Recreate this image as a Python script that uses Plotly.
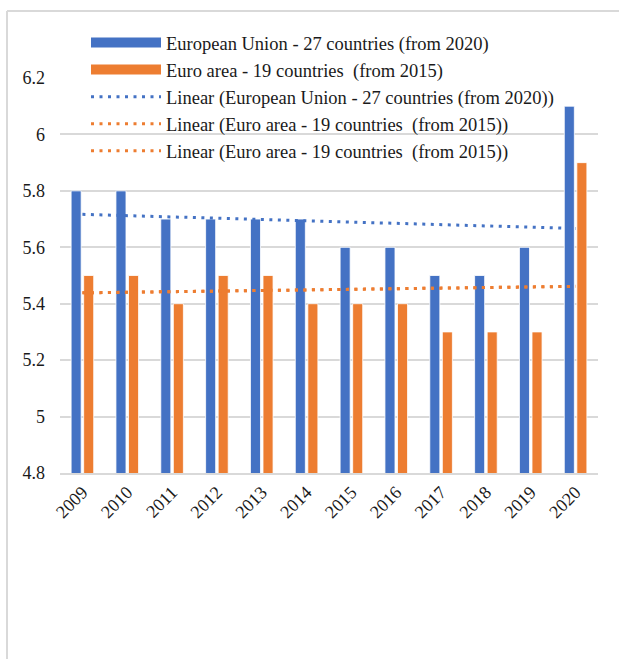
import numpy as np
import plotly.graph_objects as go

years = ["2009", "2010", "2011", "2012", "2013", "2014",
         "2015", "2016", "2017", "2018", "2019", "2020"]
eu27 = [5.8, 5.8, 5.7, 5.7, 5.7, 5.7, 5.6, 5.6, 5.5, 5.5, 5.6, 6.1]
ea19 = [5.5, 5.5, 5.4, 5.5, 5.5, 5.4, 5.4, 5.4, 5.3, 5.3, 5.3, 5.9]

name_eu = "European Union - 27 countries (from 2020)"
name_ea = "Euro area - 19 countries  (from 2015)"

BLUE = "#4472C4"
ORANGE = "#ED7D31"
GRID = "#D9D9D9"
TEXT = "#1a1a1a"
FONT = "Liberation Serif"


def linear_trend(values):
    idx = np.arange(len(values))
    slope, intercept = np.polyfit(idx, values, 1)
    return list(intercept + slope * idx)


fig = go.Figure()

# legend entries drawn as wide solid swatches
for name, color in [(name_eu, BLUE), (name_ea, ORANGE)]:
    fig.add_trace(go.Scatter(
        x=[years[0]], y=[None], mode="lines", name=name, legendgroup=name,
        line=dict(color=color, width=10), hoverinfo="skip",
    ))

for name, vals, color in [(name_eu, eu27, BLUE), (name_ea, ea19, ORANGE)]:
    fig.add_trace(go.Bar(
        x=years, y=vals, name=name, legendgroup=name, showlegend=False,
        marker=dict(color=color, line=dict(color="white", width=0.8)),
    ))

# Linear trendlines (the Euro area one appears twice in the legend)
trends = [
    ("Linear (European Union - 27 countries (from 2020))", eu27, BLUE),
    ("Linear (Euro area - 19 countries  (from 2015))", ea19, ORANGE),
    ("Linear (Euro area - 19 countries  (from 2015))", ea19, ORANGE),
]
for name, vals, color in trends:
    fig.add_trace(go.Scatter(
        x=years, y=linear_trend(vals), mode="lines", name=name,
        line=dict(color=color, width=3, dash="3px,5.5px"),
    ))

fig.update_layout(
    width=619, height=659,
    margin=dict(l=60, r=21, t=78, b=186),
    paper_bgcolor="white", plot_bgcolor="white",
    font=dict(family=FONT, size=18, color=TEXT),
    barmode="group", bargap=0.44, bargroupgap=0.2,
    showlegend=True,
    legend=dict(
        x=(86 - 60) / 538, xanchor="left",
        y=(473 - 24) / 395, yanchor="top",
        bgcolor="rgba(0,0,0,0)",
        font=dict(family=FONT, size=18.5, color=TEXT),
        itemwidth=70, tracegroupgap=0,
        traceorder="normal",
    ),
    xaxis=dict(
        type="category", tickangle=-45, showgrid=False,
        showline=True, linecolor=GRID, linewidth=1.5,
        ticks="", tickfont=dict(family=FONT, size=18, color=TEXT),
    ),
    yaxis=dict(
        range=[4.8, 6.2], dtick=0.2, tick0=4.8,
        showgrid=True, gridcolor=GRID, gridwidth=1.5,
        zeroline=False, showline=False, ticks="",
        ticklabelstandoff=14,
        tickfont=dict(family=FONT, size=18, color=TEXT),
    ),
    shapes=[
        # chart frame: left and top edges
        dict(type="line", xref="paper", yref="paper",
             x0=(7 - 60) / 538, x1=(7 - 60) / 538,
             y0=(473 - 11) / 395, y1=(473 - 670) / 395,
             line=dict(color=GRID, width=2)),
        dict(type="line", xref="paper", yref="paper",
             x0=(7 - 60) / 538, x1=(630 - 60) / 538,
             y0=(473 - 11) / 395, y1=(473 - 11) / 395,
             line=dict(color=GRID, width=2)),
    ],
)

fig.write_html("out.html")
